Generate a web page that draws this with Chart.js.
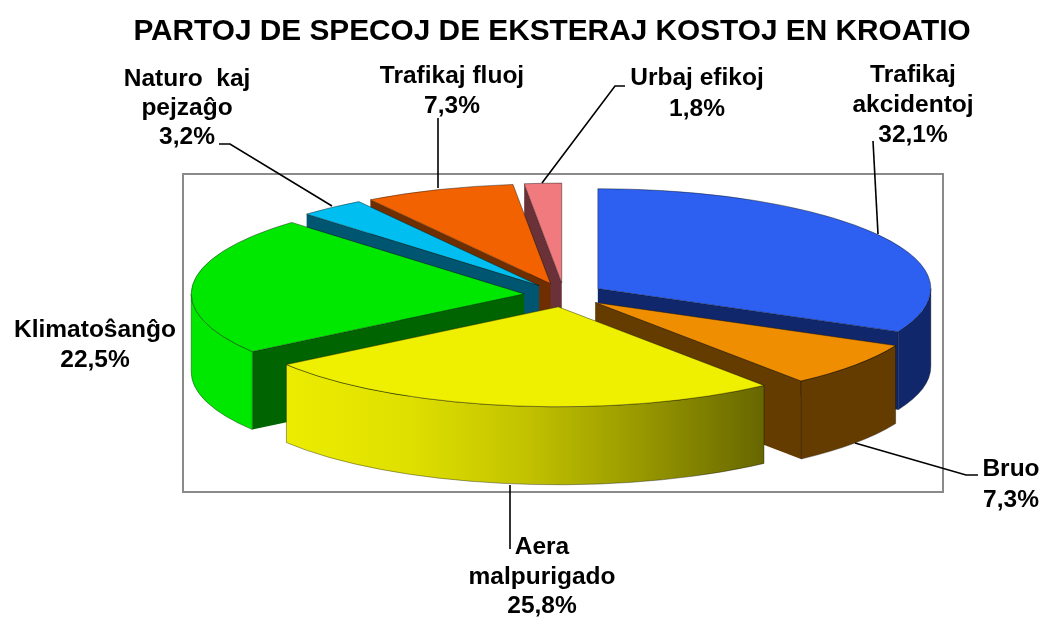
<!DOCTYPE html>
<html>
<head>
<meta charset="utf-8">
<title>Partoj de specoj de eksteraj kostoj en Kroatio</title>
<script src="https://cdn.jsdelivr.net/npm/chart.js@4"></script>
<style>
  html, body { margin: 0; padding: 0; background: #fff; }
  canvas { display: block; }
</style>
</head>
<body>
<canvas id="pie" width="1043" height="617"></canvas>
<script>
const titleText = 'PARTOJ DE SPECOJ DE EKSTERAJ KOSTOJ EN KROATIO';
const categories = ['Trafikaj akcidentoj', 'Bruo', 'Aera malpurigado', 'Klimatoŝanĝo', 'Naturo kaj pejzaĝo', 'Trafikaj fluoj', 'Urbaj efikoj'];
const shares = [32.1, 7.3, 25.8, 22.5, 3.2, 7.3, 1.8];

const topColors = ['#2d60f0', '#ef8e00', '#efef00', '#00e800', '#00bff0', '#f26200', '#f07a7e'];
const sideColors = ['#10286b', '#653c00', '#666600', '#006400', '#005570', '#6e2e00', '#6a3238'];
const rimColors = ['#10286b', '#653c00', null, '#00e800', '#005570', '#6e2e00', '#6a3238'];

// back slices first, so the front ones cover their walls
const drawOrder = [6, 5, 4, 3, 0, 1, 2];

// --- Layout of the tilted pie ---
const pieX = 564, pieY = 295, radius = 333, explode = 40, tilt = 0.3, depth = 78;
const frame = { left: 183, top: 174, right: 943, bottom: 492 };

// label lines, then centre x, first baseline and line height for each category
const labelLines = [
    ['Trafikaj', 'akcidentoj'], ['Bruo'], ['Aera', 'malpurigado'], ['Klimatoŝanĝo'],
    ['Naturo  kaj', 'pejzaĝo'], ['Trafikaj fluoj'], ['Urbaj efikoj']
];
const labelAnchors = [[913, 82, 30], [1011, 476, 31], [542, 554, 29.5], [95, 337, 30], [187, 86, 29], [452, 83, 30], [697, 85, 31]];
const leaders = [
    [[873, 141], [878, 234]],
    [[855, 443], [966, 475], [978, 475]],
    [[510, 485], [510, 549]],
    [],
    [[219, 144], [230, 144], [332, 206]],
    [[438, 118], [438, 188]],
    [[625, 86], [615, 86], [542, 183]]
];

function pct(v) {
    return v.toFixed(1).replace('.', ',') + '%';
}

function sliceGeometry(el) {
    const mid = (el.startAngle + el.endAngle) / 2;
    return {
        x: pieX + Math.cos(mid) * explode,
        y: pieY + Math.sin(mid) * explode * tilt,
        rim: a => [pieX + Math.cos(mid) * explode + Math.cos(a) * radius,
                   pieY + (Math.sin(mid) * explode + Math.sin(a) * radius) * tilt]
    };
}

function drawRadialWall(ctx, g, angle, color) {
    const p = g.rim(angle);
    ctx.beginPath();
    ctx.moveTo(g.x, g.y);
    ctx.lineTo(p[0], p[1]);
    ctx.lineTo(p[0], p[1] + depth);
    ctx.lineTo(g.x, g.y + depth);
    ctx.closePath();
    ctx.fillStyle = color;
    ctx.fill();
}

function drawOuterWall(ctx, g, lo, hi, fill) {
    ctx.beginPath();
    ctx.ellipse(g.x, g.y, radius, radius * tilt, 0, lo, hi);
    ctx.ellipse(g.x, g.y + depth, radius, radius * tilt, 0, hi, lo, true);
    ctx.closePath();
    ctx.fillStyle = fill;
    ctx.fill();
    ctx.lineWidth = 0.8;
    ctx.strokeStyle = 'rgba(0,0,0,0.45)';
    ctx.stroke();
}

function yellowWall(ctx) {
    const grad = ctx.createLinearGradient(287, 0, 765, 0);
    grad.addColorStop(0, '#ecec00');
    grad.addColorStop(0.25, '#e0e000');
    grad.addColorStop(0.5, '#c2c200');
    grad.addColorStop(0.75, '#969600');
    grad.addColorStop(1, '#666600');
    return grad;
}

const tiltedPie = {
    id: 'tiltedPie',
    beforeDatasetsDraw(chart) {
        const ctx = chart.ctx;
        const arcs = chart.getDatasetMeta(0).data;

        // grey frame behind the pie
        ctx.save();
        ctx.strokeStyle = '#8a8a8a';
        ctx.lineWidth = 2;
        ctx.strokeRect(frame.left, frame.top, frame.right - frame.left, frame.bottom - frame.top);
        ctx.restore();

        drawOrder.forEach(i => {
            const el = arcs[i];
            const g = sliceGeometry(el);
            const start = el.startAngle, end = el.endAngle;

            // only walls that face the viewer
            if (Math.cos(start) < 0) drawRadialWall(ctx, g, start, sideColors[i]);
            if (Math.cos(end) > 0) drawRadialWall(ctx, g, end, sideColors[i]);
            const lo = Math.max(start, 0), hi = Math.min(end, Math.PI);
            if (hi > lo) {
                drawOuterWall(ctx, g, lo, hi, rimColors[i] || yellowWall(ctx));
            }

            // top surface comes from the chart's own arc element, squashed and moved out
            ctx.save();
            ctx.translate(g.x, g.y);
            ctx.scale(1, tilt);
            ctx.translate(-el.x, -el.y);
            el.draw(ctx);
            ctx.restore();

            ctx.beginPath();
            ctx.moveTo(g.x, g.y);
            ctx.ellipse(g.x, g.y, radius, radius * tilt, 0, start, end);
            ctx.closePath();
            ctx.lineWidth = 0.8;
            ctx.strokeStyle = 'rgba(0,0,0,0.5)';
            ctx.stroke();
        });
        return false;
    },
    afterDraw(chart) {
        const ctx = chart.ctx;
        ctx.save();

        // leader lines
        ctx.strokeStyle = '#000';
        ctx.lineWidth = 1.6;
        leaders.forEach(line => {
            if (!line.length) return;
            ctx.beginPath();
            line.forEach((p, n) => n ? ctx.lineTo(p[0], p[1]) : ctx.moveTo(p[0], p[1]));
            ctx.stroke();
        });

        // title and labels
        ctx.fillStyle = '#000';
        ctx.textAlign = 'center';
        ctx.textBaseline = 'alphabetic';
        ctx.font = 'bold 29.8px "Liberation Sans", Arial, sans-serif';
        ctx.fillText(titleText, 552, 40);

        ctx.font = 'bold 24.5px "Liberation Sans", Arial, sans-serif';
        labelLines.forEach((lines, i) => {
            const a = labelAnchors[i];
            lines.concat(pct(shares[i])).forEach((t, n) => {
                ctx.fillText(t, a[0], a[1] + n * a[2]);
            });
        });
        ctx.restore();
    }
};

new Chart(document.getElementById('pie'), {
    type: 'pie',
    data: {
        labels: categories,
        datasets: [{
            data: shares,
            backgroundColor: topColors,
            borderWidth: 0
        }]
    },
    options: {
        responsive: false,
        animation: false,
        events: [],
        radius: radius,
        plugins: { legend: { display: false }, tooltip: { enabled: false } }
    },
    plugins: [tiltedPie]
});
</script>
</body>
</html>
